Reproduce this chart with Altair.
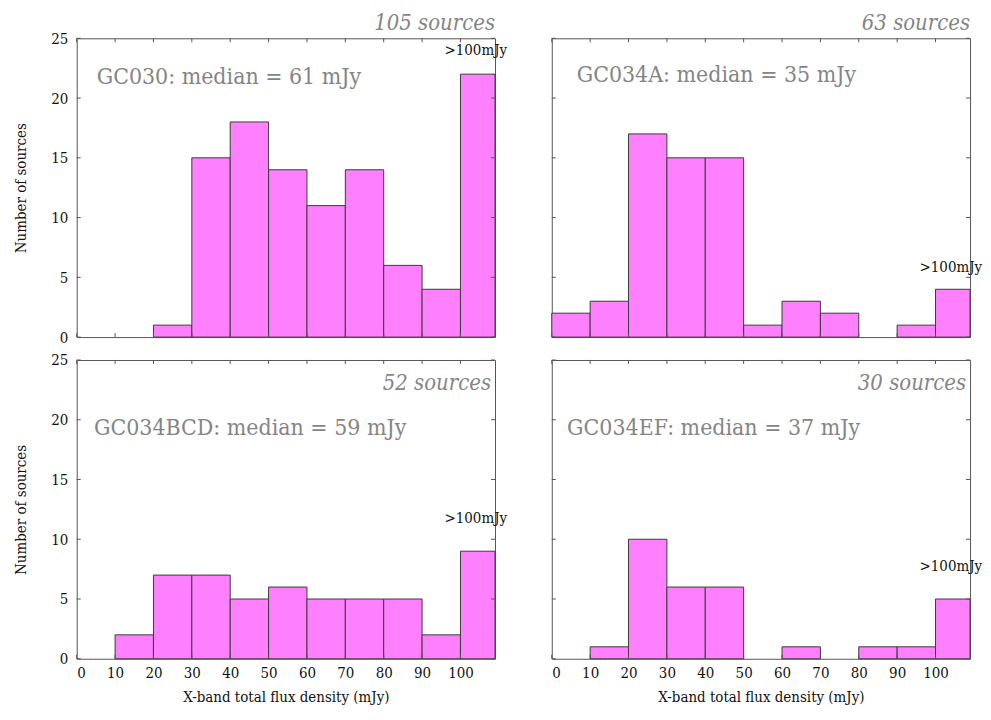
import altair as alt
import pandas as pd

# ---- data ----
bin_starts = [0, 10, 20, 30, 40, 50, 60, 70, 80, 90, 100]
bin_ends = [10, 20, 30, 40, 50, 60, 70, 80, 90, 100, 109]
gc030 = [0, 0, 1, 15, 18, 14, 11, 14, 6, 4, 22]
gc034a = [2, 3, 17, 15, 15, 1, 3, 2, 0, 1, 4]
gc034bcd = [0, 2, 7, 7, 5, 6, 5, 5, 5, 2, 9]
gc034ef = [0, 1, 10, 6, 6, 0, 1, 0, 1, 1, 5]
names = ["GC030", "GC034A", "GC034BCD", "GC034EF"]
medians = [61, 35, 59, 37]
n_sources = [105, 63, 52, 30]
x_ticks = [0, 10, 20, 30, 40, 50, 60, 70, 80, 90, 100]
y_ticks = [0, 5, 10, 15, 20, 25]

# ---- layout / style (not data) ----
W, H = 420, 300
FONT = "DejaVu Serif Condensed, DejaVu Serif"
GRAY = "#858585"
FRAME = "#555555"
label_pos = {
    "GC030": dict(mx=5.2, my=21.8, sy=-8, sr=0, gy=24.0),
    "GC034A": dict(mx=6.5, my=21.9, sy=-8, sr=0, gy=5.9),
    "GC034BCD": dict(mx=4.5, my=19.3, sy=30, sr=4, gy=11.8),
    "GC034EF": dict(mx=4.0, my=19.3, sy=30, sr=4, gy=7.8),
}

xscale = alt.Scale(domain=[0, 109], nice=False, zero=False)
yscale = alt.Scale(domain=[0, 25], nice=False)


def panel(name, counts, median, nsrc, show_x, show_y):
    p = label_pos[name]
    df = pd.DataFrame({"start": bin_starts, "end": bin_ends, "count": counts})
    df = df[df["count"] > 0]

    if show_x:
        xaxis = alt.Axis(values=x_ticks, labelFont=FONT, labelFontSize=15,
                         labelColor="#111", ticks=False, domain=False, grid=False,
                         labelPadding=7, title="X-band total flux density (mJy)",
                         titleFont=FONT, titleFontSize=15, titleFontWeight="normal",
                         titleColor="#111", titlePadding=9)
    else:
        xaxis = None
    if show_y:
        yaxis = alt.Axis(values=y_ticks, labelFont=FONT, labelFontSize=15,
                         labelColor="#111", ticks=False, domain=False, grid=False,
                         labelPadding=9, title="Number of sources",
                         titleFont=FONT, titleFontSize=15, titleFontWeight="normal",
                         titleColor="#111", titlePadding=22)
    else:
        yaxis = None

    bars = alt.Chart(df).mark_bar(fill="#ff80ff", stroke="#3a3a3a", strokeWidth=1).encode(
        x=alt.X("start:Q", scale=xscale, axis=xaxis),
        x2="end:Q",
        y=alt.Y("count:Q", scale=yscale, axis=yaxis),
        y2=alt.datum(0),
    )

    xt = pd.DataFrame({"v": x_ticks})
    yt = pd.DataFrame({"v": y_ticks})
    tick_style = dict(color=FRAME, strokeWidth=1)
    xbot = alt.Chart(xt).mark_rule(**tick_style).encode(
        x=alt.X("v:Q", scale=xscale), y=alt.value(H), y2=alt.value(H - 4))
    xtop = alt.Chart(xt).mark_rule(**tick_style).encode(
        x=alt.X("v:Q", scale=xscale), y=alt.value(0), y2=alt.value(4))
    yl = alt.Chart(yt).mark_rule(**tick_style).encode(
        y=alt.Y("v:Q", scale=yscale), x=alt.value(0), x2=alt.value(4))
    yr = alt.Chart(yt).mark_rule(**tick_style).encode(
        y=alt.Y("v:Q", scale=yscale), x=alt.value(W), x2=alt.value(W - 4))

    med_df = pd.DataFrame({"x": [p["mx"]], "y": [p["my"]],
                           "t": [f"{name}: median = {median} mJy"]})
    med = alt.Chart(med_df).mark_text(font=FONT, fontSize=23, color=GRAY,
                                      align="left", baseline="middle").encode(
        x=alt.X("x:Q", scale=xscale), y=alt.Y("y:Q", scale=yscale), text="t:N")

    src_df = pd.DataFrame({"t": [f"{nsrc} sources"]})
    src = alt.Chart(src_df).mark_text(font=FONT, fontSize=22, fontStyle="italic",
                                      color=GRAY, align="right", baseline="alphabetic").encode(
        x=alt.value(W - p["sr"]), y=alt.value(p["sy"]), text="t:N")

    gt_df = pd.DataFrame({"x": [104.0], "y": [p["gy"]], "t": [">100mJy"]})
    gt = alt.Chart(gt_df).mark_text(font=FONT, fontSize=15, color="#111",
                                    align="center", baseline="middle").encode(
        x=alt.X("x:Q", scale=xscale), y=alt.Y("y:Q", scale=yscale), text="t:N")

    return alt.layer(bars, xbot, xtop, yl, yr, med, src, gt).properties(width=W, height=H)


tl = panel(names[0], gc030, medians[0], n_sources[0], False, True)
tr = panel(names[1], gc034a, medians[1], n_sources[1], False, False)
bl = panel(names[2], gc034bcd, medians[2], n_sources[2], True, True)
br = panel(names[3], gc034ef, medians[3], n_sources[3], True, False)

chart = alt.concat(
    tl, tr, bl, br, columns=2,
    spacing=alt.RowColnumber(row=23, column=57), bounds="flush",
).configure_view(
    stroke=FRAME, strokeWidth=1
).properties(padding={"left": 5, "top": 2, "right": 0, "bottom": 0})

chart.save("out.html", embed_options={"renderer": "svg", "actions": False})
